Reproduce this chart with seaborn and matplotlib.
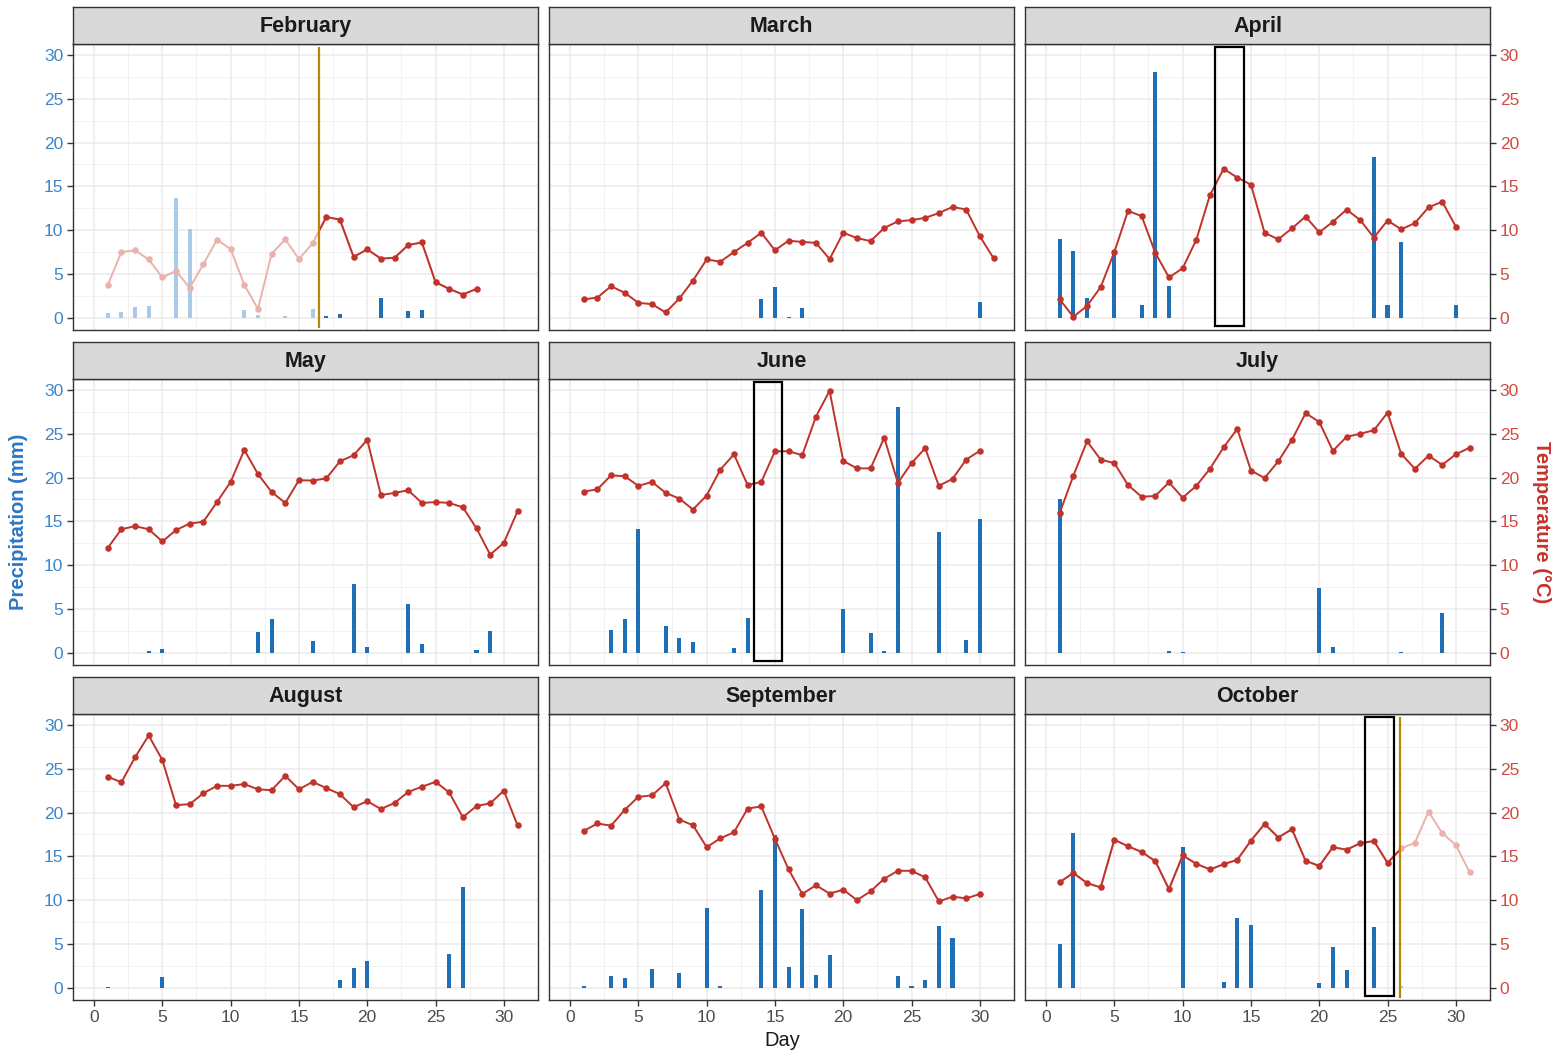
import numpy as np
import pandas as pd
import matplotlib
matplotlib.use("Agg")
import matplotlib.pyplot as plt
from matplotlib.patches import Rectangle
import seaborn as sns

# ---------------- data ----------------
months = ["February", "March", "April", "May", "June", "July",
          "August", "September", "October"]

feb_temp = [3.7, 7.5, 7.7, 6.65, 4.6, 5.35, 3.4, 6.1, 8.9, 7.85, 3.75, 1.0, 7.3, 8.95,
            6.7, 8.5, 11.5, 11.2, 6.95, 7.8, 6.75, 6.85, 8.3, 8.6, 4.05, 3.3, 2.65, 3.3]
mar_temp = [2.1, 2.3, 3.6, 2.85, 1.7, 1.55, 0.6, 2.2, 4.25, 6.65, 6.4, 7.5, 8.55, 9.7,
            7.7, 8.8, 8.65, 8.55, 6.7, 9.7, 9.1, 8.75, 10.25, 11.0, 11.15, 11.4, 11.95,
            12.65, 12.35, 9.3, 6.8]
apr_temp = [2.1, 0.1, 1.35, 3.5, 7.5, 12.2, 11.6, 7.4, 4.6, 5.65, 8.9, 14.0, 17.0, 16.0,
            15.2, 9.7, 8.95, 10.2, 11.55, 9.75, 10.95, 12.35, 11.15, 9.15, 11.1, 10.1,
            10.8, 12.6, 13.25, 10.4]
may_temp = [11.95, 14.1, 14.45, 14.1, 12.7, 14.0, 14.75, 14.95, 17.2, 19.5, 23.15, 20.4,
            18.35, 17.1, 19.7, 19.65, 19.9, 21.85, 22.55, 24.3, 18.0, 18.25, 18.55, 17.1,
            17.2, 17.1, 16.6, 14.2, 11.2, 12.55, 16.15]
jun_temp = [18.4, 18.65, 20.25, 20.15, 19.05, 19.5, 18.25, 17.6, 16.35, 17.95, 20.9,
            22.65, 19.15, 19.5, 23.0, 23.0, 22.55, 26.95, 29.9, 21.9, 21.05, 21.05, 24.55,
            19.4, 21.65, 23.35, 19.05, 19.85, 22.05, 23.05]
jul_temp = [15.95, 20.2, 24.15, 22.05, 21.65, 19.15, 17.8, 17.9, 19.45, 17.7, 19.05, 21.0,
            23.45, 25.55, 20.8, 19.95, 21.85, 24.3, 27.35, 26.35, 23.05, 24.65, 25.0,
            25.4, 27.4, 22.7, 21.0, 22.5, 21.45, 22.65, 23.4]
aug_temp = [24.1, 23.45, 26.3, 28.8, 26.0, 20.85, 20.95, 22.2, 23.05, 23.05, 23.25, 22.65,
            22.55, 24.2, 22.65, 23.5, 22.8, 22.1, 20.6, 21.3, 20.4, 21.1, 22.35, 22.95,
            23.5, 22.3, 19.45, 20.75, 21.05, 22.5, 18.55]
sep_temp = [17.9, 18.75, 18.5, 20.3, 21.8, 21.95, 23.35, 19.2, 18.55, 16.05, 17.05, 17.75,
            20.45, 20.7, 17.0, 13.5, 10.7, 11.7, 10.75, 11.2, 10.0, 11.0, 12.45, 13.35,
            13.35, 12.6, 9.85, 10.4, 10.2, 10.7]
oct_temp = [12.05, 13.1, 11.95, 11.45, 16.9, 16.15, 15.5, 14.45, 11.25, 15.1, 14.15, 13.5,
            14.1, 14.6, 16.8, 18.7, 17.15, 18.1, 14.5, 13.9, 16.05, 15.75, 16.5, 16.75,
            14.25, 15.9, 16.55, 20.1, 17.65, 16.3, 13.2]

feb_rain_days = [1, 2, 3, 4, 6, 7, 11, 12, 14, 16, 17, 18, 21, 23, 24]
feb_rain = [0.5, 0.7, 1.2, 1.3, 13.7, 10.1, 0.9, 0.3, 0.2, 1.0, 0.15, 0.4, 2.2, 0.8, 0.9]
mar_rain_days = [14, 15, 16, 17, 30]
mar_rain = [2.1, 3.5, 0.1, 1.15, 1.8]
apr_rain_days = [1, 2, 3, 5, 7, 8, 9, 24, 25, 26, 30]
apr_rain = [9.0, 7.6, 2.3, 7.4, 1.45, 28.1, 3.6, 18.3, 1.5, 8.7, 1.45]
may_rain_days = [4, 5, 12, 13, 16, 19, 20, 23, 24, 28, 29]
may_rain = [0.2, 0.4, 2.35, 3.85, 1.3, 7.8, 0.7, 5.55, 1.0, 0.3, 2.45]
jun_rain_days = [3, 4, 5, 7, 8, 9, 12, 13, 20, 22, 23, 24, 27, 29, 30]
jun_rain = [2.6, 3.85, 14.1, 3.0, 1.7, 1.2, 0.55, 3.95, 5.0, 2.2, 0.2, 28.1, 13.75, 1.45, 15.25]
jul_rain_days = [1, 9, 10, 20, 21, 26, 29]
jul_rain = [17.6, 0.2, 0.1, 7.4, 0.6, 0.1, 4.5]
aug_rain_days = [1, 5, 18, 19, 20, 26, 27]
aug_rain = [0.1, 1.2, 0.85, 2.25, 3.05, 3.85, 11.5]
sep_rain_days = [1, 3, 4, 6, 8, 10, 11, 14, 15, 16, 17, 18, 19, 24, 25, 26, 27, 28]
sep_rain = [0.15, 1.35, 1.15, 2.15, 1.65, 9.1, 0.25, 11.15, 17.45, 2.35, 9.0, 1.45, 3.75,
            1.35, 0.15, 0.85, 7.05, 5.7]
oct_rain_days = [1, 2, 10, 13, 14, 15, 20, 21, 22, 24, 26]
oct_rain = [5.0, 17.7, 16.05, 0.65, 7.95, 7.2, 0.5, 4.6, 2.05, 6.9, 0.2]

# highlighted windows (black boxes) and data-availability cutoffs
box_months = ["April", "June", "October"]
box_start = [12.4, 13.45, 23.35]
box_end = [14.5, 15.55, 25.45]
box_low, box_high = -0.95, 30.95
cutoff_months = ["February", "October"]
cutoff_day = [16.5, 25.9]
cutoff_faded_side = ["before", "after"]

temps = [feb_temp, mar_temp, apr_temp, may_temp, jun_temp, jul_temp, aug_temp, sep_temp, oct_temp]
rain_days = [feb_rain_days, mar_rain_days, apr_rain_days, may_rain_days, jun_rain_days,
             jul_rain_days, aug_rain_days, sep_rain_days, oct_rain_days]
rains = [feb_rain, mar_rain, apr_rain, may_rain, jun_rain, jul_rain, aug_rain, sep_rain, oct_rain]

y_ticks = [0, 5, 10, 15, 20, 25, 30]
x_ticks = [0, 5, 10, 15, 20, 25, 30]

# ---------------- style ----------------
sns.set_theme(style="white")
plt.rcParams["font.family"] = ["Liberation Sans", "DejaVu Sans"]

BAR = "#1F6FB6"
BAR_FADED = "#A9CBE9"
TEMP = "#C0332B"
TEMP_FADED = "#EBB2AC"
VLINE = "#B8860B"
LEFT_LAB = "#3C86C8"
LEFT_TITLE = "#2A78C2"
RIGHT_LAB = "#D24A40"
RIGHT_TITLE = "#C8322C"
BORDER = "#333333"
GRID = "#EBEBEB"

W, H = 1566, 1052
fig = plt.figure(figsize=(W / 100, H / 100), dpi=100)
fig.patch.set_facecolor("white")

col_x = [73, 549, 1025]
row_top = [44, 379, 714]
pw, ph = 465, 286
strip_h = 37
XLIM = (-1.54, 32.49)
YLIM = (-1.4, 31.25)

for i, month in enumerate(months):
    r, c = divmod(i, 3)
    x0 = col_x[c]
    y0 = row_top[r]
    ax = fig.add_axes([x0 / W, 1 - (y0 + ph) / H, pw / W, ph / H])
    sax = fig.add_axes([x0 / W, 1 - y0 / H, pw / W, strip_h / H])

    # strip
    sax.set_facecolor("#D9D9D9")
    sax.set_xticks([]); sax.set_yticks([])
    for s in sax.spines.values():
        s.set_color(BORDER); s.set_linewidth(1.0)
    sax.text(0.5, 0.47, month, ha="center", va="center", fontsize=15.5,
             fontweight="bold", color="#1A1A1A", transform=sax.transAxes)

    temp = temps[i]
    days = np.arange(1, len(temp) + 1)
    tdf = pd.DataFrame({"day": days, "temp": temp})
    rdf = pd.DataFrame({"day": rain_days[i], "rain": rains[i]})

    cut = None
    if month in cutoff_months:
        k = cutoff_months.index(month)
        cut = cutoff_day[k]
        side = cutoff_faded_side[k]
        if side == "before":
            tdf["shade"] = np.where(tdf["day"] < cut, "faded", "solid")
            rdf["shade"] = np.where(rdf["day"] < cut, "faded", "solid")
        else:
            tdf["shade"] = np.where(tdf["day"] > cut, "faded", "solid")
            rdf["shade"] = np.where(rdf["day"] > cut, "faded", "solid")
    else:
        tdf["shade"] = "solid"
        rdf["shade"] = "solid"

    # precipitation bars
    sns.barplot(data=rdf, x="day", y="rain", hue="shade", hue_order=["solid", "faded"],
                palette={"solid": BAR, "faded": BAR_FADED}, native_scale=True,
                width=0.3, dodge=False, errorbar=None, legend=False, saturation=1,
                linewidth=0, ax=ax, zorder=2)

    # temperature line
    if cut is None:
        sns.lineplot(data=tdf, x="day", y="temp", color=TEMP, linewidth=1.4,
                     ax=ax, zorder=3)
        sns.scatterplot(data=tdf, x="day", y="temp", color=TEMP, s=22,
                        linewidth=0, ax=ax, zorder=4)
    else:
        sns.lineplot(data=tdf, x="day", y="temp", color=TEMP_FADED, linewidth=1.4,
                     ax=ax, zorder=3)
        sns.lineplot(data=tdf, x="day", y="temp", color=TEMP, linewidth=1.4,
                     ax=ax, zorder=3.5)
        dark_line = ax.lines[-1]
        if side == "before":
            clip = Rectangle((cut, YLIM[0]), XLIM[1] - cut, YLIM[1] - YLIM[0],
                             transform=ax.transData)
        else:
            clip = Rectangle((XLIM[0], YLIM[0]), cut - XLIM[0], YLIM[1] - YLIM[0],
                             transform=ax.transData)
        dark_line.set_clip_path(clip)
        fd = tdf[tdf["shade"] == "faded"]
        sd = tdf[tdf["shade"] == "solid"]
        sns.scatterplot(data=fd, x="day", y="temp", color=TEMP_FADED, s=22,
                        linewidth=0, ax=ax, zorder=4)
        sns.scatterplot(data=sd, x="day", y="temp", color=TEMP, s=22,
                        linewidth=0, ax=ax, zorder=4)
        ax.vlines(cut, -1.2, 30.95, color=VLINE, linewidth=1.6, zorder=6)

    if month in box_months:
        k = box_months.index(month)
        ax.add_patch(Rectangle((box_start[k], box_low), box_end[k] - box_start[k],
                               box_high - box_low, fill=False, edgecolor="black",
                               linewidth=1.6, zorder=5))

    # axes styling
    ax.set_xlim(*XLIM)
    ax.set_ylim(*YLIM)
    ax.set_xticks(x_ticks)
    ax.set_xticks([v + 2.5 for v in x_ticks], minor=True)
    ax.set_yticks(y_ticks)
    ax.set_yticks([v + 2.5 for v in y_ticks[:-1]], minor=True)
    ax.grid(True, which="major", color=GRID, linewidth=1.1, zorder=0)
    ax.grid(True, which="minor", color="#F0F0F0", linewidth=0.6, zorder=0)
    ax.set_axisbelow(True)
    ax.set_xlabel("")
    ax.set_ylabel("")
    for s in ax.spines.values():
        s.set_color(BORDER); s.set_linewidth(1.0)
    ax.tick_params(which="minor", length=0)
    ax.tick_params(axis="both", which="major", length=4, width=1.0, color=BORDER,
                   labelsize=12.5, pad=3)

    if r == 2:
        ax.tick_params(axis="x", bottom=True, labelbottom=True, labelcolor="#4D4D4D")
        ax.set_xticklabels([str(v) for v in x_ticks])
    else:
        ax.tick_params(axis="x", bottom=False, labelbottom=False)

    ax.set_yticklabels([str(v) for v in y_ticks])
    if c == 0:
        ax.tick_params(axis="y", left=True, labelleft=True, right=False,
                       labelright=False, labelcolor=LEFT_LAB)
    elif c == 2:
        ax.tick_params(axis="y", left=False, labelleft=False, right=True,
                       labelright=True, labelcolor=RIGHT_LAB)
    else:
        ax.tick_params(axis="y", left=False, labelleft=False, right=False,
                       labelright=False)

fig.text(19 / W, 1 - 522 / H, "Precipitation (mm)", rotation=90, ha="center",
         va="center", fontsize=14.5, fontweight="bold", color=LEFT_TITLE)
fig.text(1541 / W, 1 - 522 / H, "Temperature (°C)", rotation=270, ha="center",
         va="center", fontsize=14.5, fontweight="bold", color=RIGHT_TITLE)
fig.text(782 / W, 1 - 1040 / H, "Day", ha="center", va="center", fontsize=14.5,
         color="#1A1A1A")

fig.savefig("out.png", dpi=100, facecolor="white")
